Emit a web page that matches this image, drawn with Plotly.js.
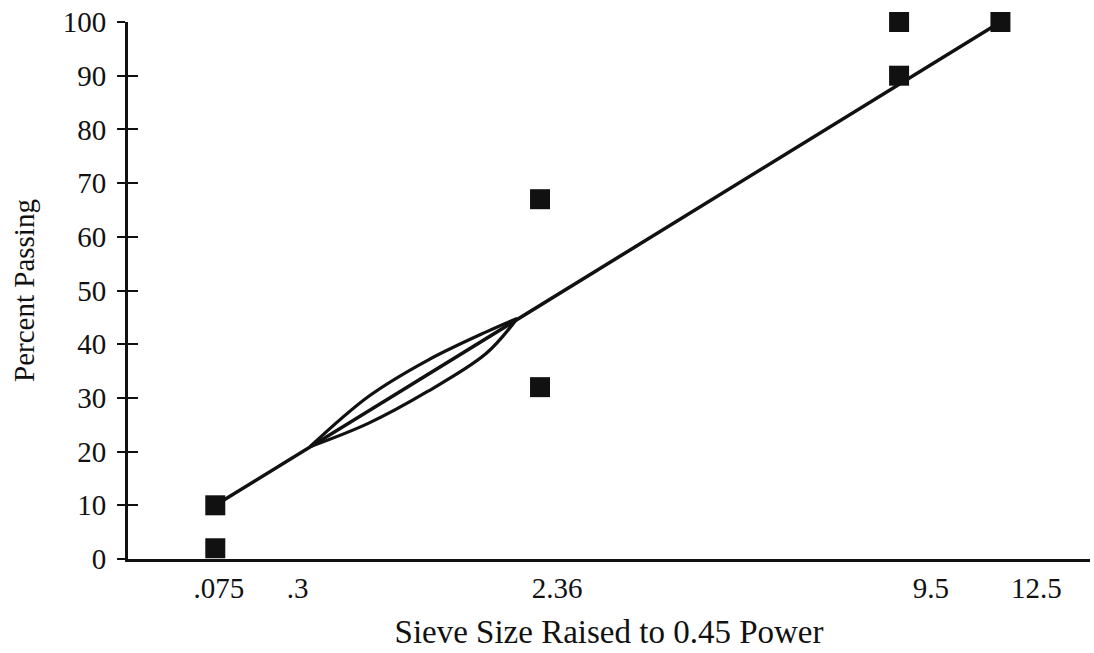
<!DOCTYPE html>
<html>
<head>
<meta charset="utf-8">
<script src="https://cdn.plot.ly/plotly-3.0.1.min.js"></script>
<style>html,body{margin:0;padding:0;background:#fff;}#chart{width:1094px;height:653px;}</style>
</head>
<body>
<div id="chart"></div>
<script>
// Control points (sieve size in mm, percent passing)
const controlSizes = [0.075, 0.075, 2.36, 2.36, 9.5, 9.5, 12.5];
const controlPassing = [2, 10, 32, 67, 90, 100, 100];

// Maximum density line (sieve size in mm, percent passing)
const maxDensitySizes = [0.075, 12.5];
const maxDensityPassing = [10, 100];

// Restricted zone as drawn (x already in sieve size ^ 0.45 units)
const zoneX = [0.65, 0.86, 1.07, 1.28, 1.39];
const zoneUpper = [20.9, 30.3, 37.0, 42.3, 44.8];
const zoneLower = [20.9, 25.3, 31.2, 38.3, 44.8];

// Tick labels
const tickSizes = [0.075, 0.3, 2.36, 9.5, 12.5];
const tickLabels = ['.075', '.3', '2.36', '9.5', '12.5'];

const POWER = 0.45;
const pw = a => a.map(v => Math.pow(v, POWER));

const FONT = 'Liberation Serif, Times New Roman, serif';
const INK = '#111111';

const traces = [
  {
    x: pw(maxDensitySizes), y: maxDensityPassing, type: 'scatter', mode: 'lines',
    line: {color: INK, width: 3.5}, hoverinfo: 'skip', showlegend: false
  },
  {
    x: zoneX, y: zoneUpper, type: 'scatter', mode: 'lines',
    line: {color: INK, width: 3.2, shape: 'spline', smoothing: 1}, showlegend: false
  },
  {
    x: zoneX, y: zoneLower, type: 'scatter', mode: 'lines',
    line: {color: INK, width: 3.2, shape: 'spline', smoothing: 1}, showlegend: false
  },
  {
    x: pw(controlSizes), y: controlPassing, type: 'scatter', mode: 'markers',
    marker: {symbol: 'square', size: 20, color: INK}, cliponaxis: false, showlegend: false
  },
  {
    x: [], y: [], xaxis: 'x2', yaxis: 'y2', type: 'scatter', mode: 'markers', showlegend: false
  }
];

const layout = {
  width: 1094, height: 653,
  margin: {l: 128, r: 4, t: 22, b: 94},
  paper_bgcolor: '#fff', plot_bgcolor: '#fff',
  font: {family: FONT, color: INK, size: 29},
  showlegend: false,
  xaxis: {
    range: [0, 3.436], showgrid: false, zeroline: false,
    showline: true, linecolor: INK, linewidth: 3,
    ticks: '', showticklabels: false, fixedrange: true
  },
  xaxis2: {
    overlaying: 'x', anchor: 'y', side: 'bottom',
    range: [0, 3.30], showgrid: false, zeroline: false, showline: false,
    tickmode: 'array', tickvals: pw(tickSizes), ticktext: tickLabels,
    ticks: '', ticklabelstandoff: 9,
    tickfont: {family: FONT, size: 29, color: INK},
    title: {text: 'Sieve Size Raised to 0.45 Power', font: {family: FONT, size: 33, color: INK}, standoff: 16}
  },
  yaxis: {
    range: [0, 100], dtick: 10, tick0: 0, showgrid: false, zeroline: false,
    showline: true, linecolor: INK, linewidth: 3,
    ticks: 'outside', ticklen: 8, tickwidth: 2, tickcolor: INK,
    ticklabelstandoff: 5,
    tickfont: {family: FONT, size: 29, color: INK},
    title: {text: 'Percent Passing', font: {family: FONT, size: 29, color: INK}, standoff: 20},
    fixedrange: true
  },
  yaxis2: {
    overlaying: 'y', anchor: 'x', side: 'left',
    range: [0, 100], dtick: 10, tick0: 0, showgrid: false, zeroline: false, showline: false,
    ticks: 'inside', ticklen: 10, tickwidth: 2, tickcolor: INK, showticklabels: false
  }
};

Plotly.newPlot('chart', traces, layout, {displayModeBar: false, staticPlot: true});
</script>
</body>
</html>
